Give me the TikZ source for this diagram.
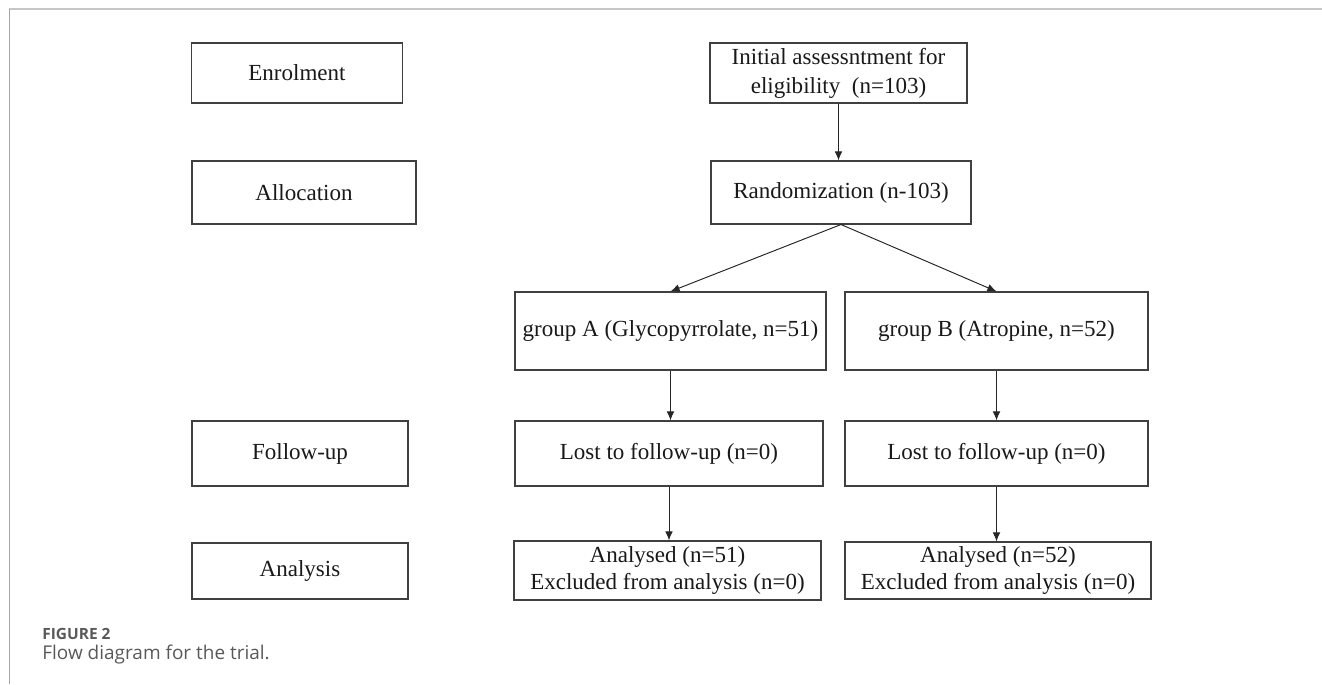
\documentclass[tikz,border=0pt]{standalone}
\usepackage{fontspec}
\setmainfont{Liberation Serif}
\newfontfamily\capfont{Open Sans}
\usetikzlibrary{arrows.meta, positioning, calc}

\begin{document}
\begin{tikzpicture}[
    font=\fontsize{13.1}{15.5}\selectfont,
    box/.style={draw=black!75, rectangle, line width=0.6pt, inner sep=0pt, align=center, text=black!90},
    phasebox/.style={box, minimum width=4.32cm},
    armbox/.style={box, minimum width=6.12cm},
    arrow/.style={-{Latex[length=5.2pt,width=4.4pt]}, line width=0.55pt, draw=black!85},
    framerule/.style={draw=black!22, line width=0.9pt},
    caption/.style={font=\capfont, text=black!65, anchor=base west, inner sep=0pt}
]
\useasboundingbox (0,0) rectangle (26.44,13.68);

% Frame
\draw[framerule] (0.18,13.5) -- (26.44,13.5);
\draw[framerule, draw=black!35, line width=0.5pt] (0.18,13.5) -- (0.18,0);

% Column 1: Trial phases
\node[phasebox, minimum width=4.22cm, minimum height=1.2cm] (enrol) at (5.94,12.22) {Enrolment};
\node[phasebox, minimum width=4.48cm, minimum height=1.26cm] (alloc) at (6.08,9.83) {Allocation};
\node[phasebox, minimum height=1.3cm] (follow) at (6.0,4.61) {Follow-up};
\node[phasebox, minimum height=1.12cm] (analysis) at (6.0,2.26) {Analysis};

% Column 2: Eligibility & Randomization
\node[box, minimum width=5.14cm, minimum height=1.2cm, font=\fontsize{13.1}{16.5}\selectfont] (assess) at (16.77,12.22) {Initial assessntment for\\eligibility\ \ (n=103)};
\node[box, minimum width=5.2cm, minimum height=1.26cm] (random) at (16.82,9.83) {Randomization (n-103)};

% Arm A: Glycopyrrolate
\node[armbox, minimum width=6.22cm, minimum height=1.56cm] (grpA) at (13.41,7.06) {group A (Glycopyrrolate, n=51)};
\node[armbox, minimum width=6.16cm, minimum height=1.3cm] (lostA) at (13.38,4.61) {Lost to follow-up (n=0)};
\node[armbox, minimum width=6.14cm, minimum height=1.18cm] (anaA) at (13.35,2.27) {Analysed (n=51)\\Excluded from analysis (n=0)};

% Arm B: Atropine
\node[armbox, minimum width=6.06cm, minimum height=1.56cm] (grpB) at (19.93,7.06) {group B (Atropine, n=52)};
\node[armbox, minimum width=6.06cm, minimum height=1.3cm] (lostB) at (19.93,4.61) {Lost to follow-up (n=0)};
\node[armbox, minimum width=6.12cm, minimum height=1.14cm] (anaB) at (19.96,2.27) {Analysed (n=52)\\Excluded from analysis (n=0)};

% Connections
\draw[arrow] (assess.south) -- (assess.south |- random.north);
\draw[arrow] (random.south) -- (grpA.north);
\draw[arrow] (random.south) -- (grpB.north);
\draw[arrow] (grpA.south) -- (grpA.south |- lostA.north);
\draw[arrow] (grpB.south) -- (grpB.south |- lostB.north);
\draw[arrow] (lostA.south) -- (lostA.south |- anaA.north);
\draw[arrow] (lostB.south) -- (lostB.south |- anaB.north);

% Caption
\node[caption, font=\capfont\bfseries\fontsize{8.8}{10}\selectfont] (figno) at (0.84,0.90) {FIGURE 2};
\node[caption, font=\capfont\fontsize{10.8}{12}\selectfont] (figtext) at (0.84,0.49) {Flow diagram for the trial.};

\end{tikzpicture}
\end{document}
